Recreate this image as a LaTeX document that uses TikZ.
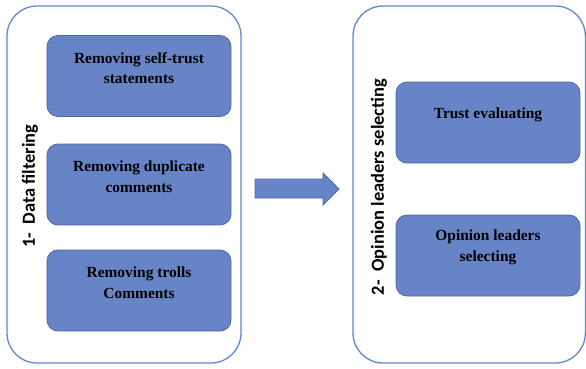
\documentclass[tikz,border=0pt]{standalone}
\usepackage{fontspec}
\newfontfamily\boxfont{Liberation Serif}
\newfontfamily\sidefont{Carlito}
\usetikzlibrary{positioning}
\definecolor{boxfill}{HTML}{6784C6}
\definecolor{boxline}{HTML}{4B68A6}
\definecolor{frameline}{HTML}{6088CC}

\begin{document}
\begin{tikzpicture}[x=1bp,y=-1bp,
	frame/.style={draw=frameline, line width=1.3bp, rounded corners=30bp},
	stepbox/.style={draw=boxline, fill=boxfill, line width=0.8bp, rounded corners=11bp,
		minimum width=184bp, minimum height=81bp, inner sep=0pt},
	txt/.style={align=center, font=\boxfont\fontsize{15.5}{20.5}\selectfont\bfseries, yshift=8bp},
	side/.style={rotate=90, font=\sidefont\fontsize{18.5}{20}\selectfont\bfseries}
	]
	\useasboundingbox (0,0) rectangle (586,368);
	
	% two stages
	\draw[frame] (7,6) rectangle (241,363);
	\draw[frame] (353,6) rectangle (585.4,363);
	
	\node[side] (filter) at (30,186) {1-\ \ Data filtering};
	\node[side] (select) at (379,187) {2-\ \ Opinion leaders selecting};
	
	% boxes of stage 1
	\node[stepbox, label={[txt]center:Removing self-trust\\statements}] (self) at (139,76) {};
	\node[stepbox, label={[txt]center:Removing duplicate\\comments}] (dup) at (139,184.5) {};
	\node[stepbox, label={[txt]center:Removing trolls\\Comments}] (troll) at (139,290.5) {};
	
	% boxes of stage 2
	\node[stepbox, label={[txt]center:Trust evaluating}] (trust) at (488,122.5) {};
	\node[stepbox, label={[txt]center:Opinion leaders\\selecting}] (leader) at (488,255.5) {};
	
	% arrow between the stages
	\filldraw[draw=boxline, fill=boxfill, line width=0.8bp]
		(255,179) -- (323,179) -- (323,173) -- (339,189) -- (323,205) -- (323,198) -- (255,198) -- cycle;
\end{tikzpicture}
\end{document}
